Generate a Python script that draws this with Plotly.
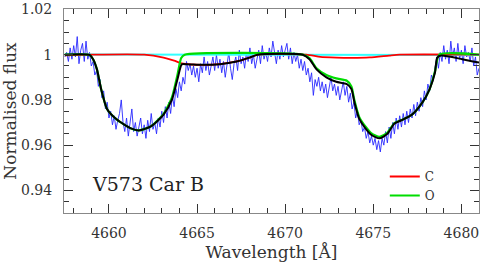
import numpy as np
import plotly.graph_objects as go

# Observed spectrum (blue), sampled every 0.1 A from 4657.5 A
obs_start = 4657.5
obs_step = 0.1
obs_flux = [
    0.999, 1.001, 0.997, 1.003, 0.998, 1.004, 0.999, 1.008, 0.996, 1.002,
    1.005, 0.997, 1.006, 0.998, 1.001, 0.995, 0.997, 0.991, 0.993, 0.986,
    0.989, 0.981, 0.984, 0.976, 0.979, 0.972, 0.975, 0.969, 0.973, 0.967,
    0.971, 0.974, 0.980, 0.970, 0.966, 0.972, 0.964, 0.969, 0.976, 0.966,
    0.970, 0.964, 0.968, 0.972, 0.965, 0.969, 0.963, 0.971, 0.966, 0.974,
    0.967, 0.970, 0.965, 0.972, 0.968, 0.975, 0.970, 0.977, 0.972, 0.979,
    0.974, 0.982, 0.977, 0.985, 0.981, 0.988, 0.984, 0.990, 0.987, 0.997,
    0.993, 0.996, 0.991, 0.995, 0.990, 0.994, 0.988, 0.996, 0.992, 0.999,
    0.993, 0.997, 0.991, 0.995, 0.999, 0.993, 1.000, 0.994, 0.998, 0.992,
    0.997, 0.990, 0.995, 1.001, 0.994, 0.989, 0.996, 0.999, 0.993, 1.002,
    0.996, 0.999, 0.994, 1.001, 0.997, 1.003, 0.996, 1.000, 0.994, 0.999,
    1.002, 0.996, 1.004, 0.998, 1.001, 0.997, 1.003, 0.999, 1.006, 1.001,
    0.996, 1.002, 0.998, 1.004, 0.999, 1.002, 1.005, 0.998, 1.003, 0.996,
    1.001, 0.997, 1.000, 0.994, 0.998, 0.993, 0.997, 0.991, 0.994, 0.988,
    0.992, 0.982, 0.989, 0.986, 0.990, 0.984, 0.988, 0.983, 0.987, 0.981,
    0.986, 0.990, 0.984, 0.987, 0.982, 0.986, 0.980, 0.985, 0.988, 0.982,
    0.986, 0.979, 0.983, 0.976, 0.979, 0.972, 0.975, 0.969, 0.971, 0.966,
    0.968, 0.963, 0.966, 0.961, 0.964, 0.960, 0.963, 0.958, 0.962, 0.957,
    0.963, 0.960, 0.966, 0.961, 0.968, 0.963, 0.970, 0.965, 0.972, 0.967,
    0.973, 0.968, 0.974, 0.969, 0.975, 0.970, 0.976, 0.972, 0.978, 0.973,
    0.979, 0.975, 0.981, 0.977, 0.984, 0.980, 0.987, 0.984, 0.991, 0.989,
    0.995, 0.999, 0.994, 1.001, 0.997, 1.004, 0.998, 1.002, 0.996, 1.006,
    0.999, 1.003, 0.997, 1.005, 0.998, 1.002, 0.996, 1.004, 0.999, 1.001,
    0.997, 1.003, 0.995, 0.999, 0.991, 0.994,
]
obs_wave = np.round(obs_start + obs_step * np.arange(len(obs_flux)), 2)

# Total model (black)
model_wave = [4657.5, 4658.9, 4659.1, 4659.32, 4659.55, 4659.89, 4660.45, 4661.25, 4661.7,
              4662.38, 4663.1, 4663.57, 4663.9, 4664.13, 4664.4, 4665.3, 4666.3, 4667.25, 4667.98,
              4668.44, 4671.0, 4671.38, 4671.78, 4672.34, 4672.9, 4673.5, 4673.76,
              4673.93, 4674.2, 4674.6, 4674.9, 4675.35, 4675.8, 4676.2, 4676.6,
              4677.2, 4677.8, 4678.2, 4678.5, 4678.63, 4678.86, 4680.05, 4681.0]
model_flux = [1.000, 0.9999, 0.998, 0.9935, 0.985, 0.976, 0.9713, 0.9674, 0.9665,
              0.9683, 0.9735, 0.980, 0.9895, 0.9957, 0.9958, 0.9955, 0.9958, 0.997, 0.9987,
              1.000, 1.000, 0.998, 0.9935, 0.990, 0.988, 0.987, 0.9848,
              0.979, 0.9717, 0.967, 0.9645, 0.963, 0.965, 0.9696, 0.971,
              0.9735, 0.979, 0.9848, 0.992, 0.9987, 0.9996, 0.998, 0.9965]

# Carbon contribution (red)
c_wave = [4657.5, 4659.0, 4662.0, 4663.1, 4663.7, 4664.13, 4665.3, 4666.3, 4667.25,
          4667.98, 4668.44, 4671.2, 4672.0, 4672.9, 4673.8, 4674.8, 4675.9,
          4676.5, 4681.0]
c_flux = [0.9997, 1.000, 1.000, 0.9987, 0.9974, 0.9962, 0.9955, 0.9958, 0.997,
          0.9987, 1.000, 1.000, 0.9990, 0.9987, 0.9986, 0.9988, 0.9996,
          1.000, 1.000]

# Oxygen contribution (green)
o_wave = [4657.5, 4658.9, 4659.1, 4659.32, 4659.55, 4659.89, 4660.45, 4661.25, 4661.7,
          4662.38, 4663.1, 4663.57, 4663.9, 4664.1, 4664.3, 4671.0, 4671.38,
          4671.78, 4672.34, 4672.9, 4673.5, 4673.76, 4673.93, 4674.2, 4674.6,
          4674.9, 4675.35, 4675.8, 4676.2, 4676.6, 4677.2, 4677.8, 4678.2,
          4678.5, 4678.75, 4681.0]
o_flux = [1.000, 0.9999, 0.998, 0.9935, 0.985, 0.976, 0.9713, 0.9674, 0.9665,
          0.9683, 0.9738, 0.981, 0.9915, 0.9985, 1.000, 1.000, 0.9985,
          0.994, 0.991, 0.9895, 0.9885, 0.986, 0.9798, 0.9725, 0.9678,
          0.9652, 0.9637, 0.9655, 0.9698, 0.9711, 0.9735, 0.979, 0.9848,
          0.9925, 1.000, 1.000]

# Continuum (cyan)
cont_wave = [4657.5, 4681.0]
cont_flux = [1.0001, 0.9999]

x_range = [4657.45, 4681.0]
y_range = [0.93, 1.0202]
x_ticks = [4660, 4665, 4670, 4675, 4680]
y_ticks = [0.94, 0.96, 0.98, 1.0, 1.02]
y_tick_text = ["0.94", "0.96", "0.98", "1", "1.02"]

FONT = "DejaVu Serif"

fig = go.Figure()
fig.add_trace(go.Scatter(x=obs_wave, y=obs_flux, mode="lines",
                         line=dict(color="rgb(40,40,255)", width=0.9),
                         showlegend=False, hoverinfo="skip"))
fig.add_trace(go.Scatter(x=cont_wave, y=cont_flux, mode="lines",
                         line=dict(color="#33ffff", width=2),
                         showlegend=False))
fig.add_trace(go.Scatter(x=c_wave, y=c_flux, mode="lines", name="C",
                         line=dict(color="#ff0000", width=1.8, shape="spline", smoothing=0.6)))
fig.add_trace(go.Scatter(x=o_wave, y=o_flux, mode="lines", name="O",
                         line=dict(color="#00dd00", width=2.2, shape="spline", smoothing=0.6)))
fig.add_trace(go.Scatter(x=model_wave, y=model_flux, mode="lines",
                         line=dict(color="black", width=2, shape="spline", smoothing=0.6),
                         showlegend=False))

fig.add_annotation(x=4658.95, y=0.943, text="V573 Car B", showarrow=False,
                   xanchor="left", yanchor="middle",
                   font=dict(family=FONT, size=19, color="#222"))

axis_common = dict(showline=True, linecolor="#888", linewidth=1, mirror="ticks",
                   ticks="inside", tickcolor="#333", ticklen=9, tickwidth=1,
                   showgrid=False, zeroline=False, automargin=False,
                   ticklabeloverflow="allow",
                   tickfont=dict(family=FONT, size=14, color="#333"))

fig.update_xaxes(range=x_range, tickvals=x_ticks,
                 minor=dict(dtick=1, ticks="inside", ticklen=5, tickcolor="#333"),
                 title=dict(text="Wavelength [Å]", font=dict(family=FONT, size=17, color="#333"),
                            standoff=6),
                 ticklabelstandoff=7, **axis_common)
fig.update_yaxes(range=y_range, tickvals=y_ticks, ticktext=y_tick_text,
                 minor=dict(dtick=0.005, ticks="inside", ticklen=5, tickcolor="#333"),
                 title=dict(text="Normalised flux", font=dict(family=FONT, size=17, color="#333"),
                            standoff=6),
                 ticklabelstandoff=8, **axis_common)

fig.update_layout(width=480, height=262,
                  margin=dict(l=64, r=1, t=9, b=49),
                  paper_bgcolor="white", plot_bgcolor="white",
                  legend=dict(x=0.773, y=0.25, xanchor="left", yanchor="top",
                              bgcolor="rgba(0,0,0,0)", font=dict(family=FONT, size=12, color="#333"),
                              tracegroupgap=0, itemwidth=30))

fig.write_html("out.html", config={"displayModeBar": False},
               post_script="document.body.style.margin='0px';document.body.style.overflow='hidden';")
